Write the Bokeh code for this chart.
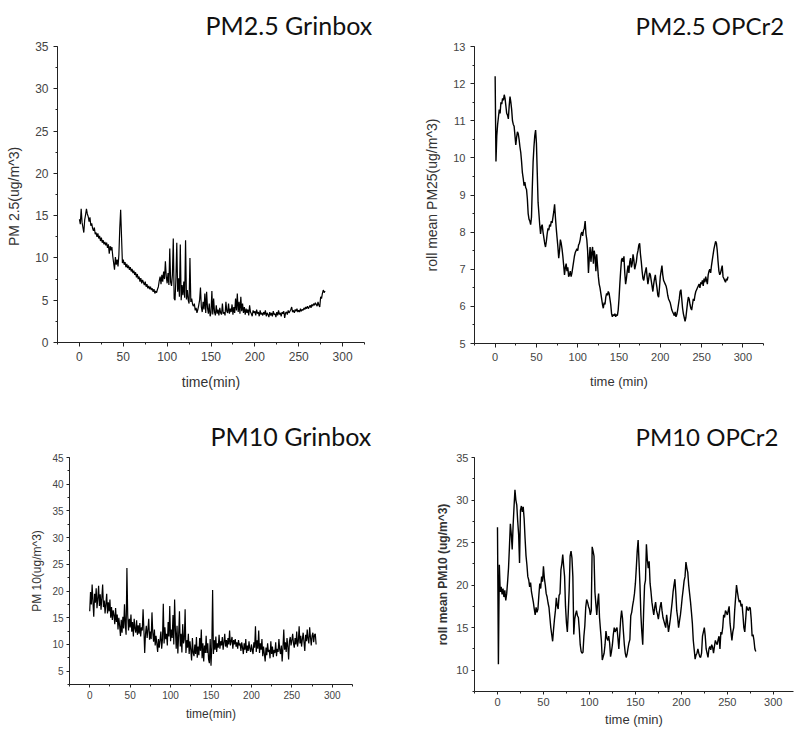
from bokeh.plotting import figure
from bokeh.layouts import column, row
from bokeh.models import Range1d, SingleIntervalTicker, Title
from bokeh.embed import file_html
from bokeh.resources import INLINE

# ---------------- data ----------------
pm25_grinbox = [
    14.6, 14.0, 15.8, 14.2, 13.6, 13.0, 14.5, 15.1, 15.8, 15.2,
    14.9, 14.3, 14.8, 13.8, 14.1, 13.5, 13.2, 13.6, 12.8, 13.0,
    12.5, 12.9, 12.3, 12.6, 12.0, 12.4, 11.8, 12.1, 11.6, 11.9,
    11.5, 11.8, 11.2, 11.6, 10.5, 11.4, 10.9, 11.3, 10.2, 9.4,
    8.6, 10.1, 9.2, 9.8, 9.0, 10.4, 13.5, 15.7, 12.5, 9.4,
    9.8, 9.2, 9.5, 8.9, 9.3, 8.8, 9.1, 8.6, 8.9, 8.4,
    8.7, 8.2, 8.5, 8.0, 8.3, 7.7, 8.1, 7.5, 7.8, 7.2,
    7.6, 7.0, 7.4, 7.1, 6.8, 7.2, 6.6, 6.9, 6.4, 6.7,
    6.3, 6.6, 6.2, 6.4, 6.0, 6.3, 5.8, 6.1, 5.9, 6.3,
    6.6, 7.3, 7.8, 6.9, 8.0, 7.2, 8.4, 7.5, 9.6, 7.8,
    7.0, 8.2, 6.8, 11.1, 7.1, 6.7, 8.0, 12.3, 5.2, 5.0,
    7.5, 11.8, 6.0, 7.6, 5.4, 11.6, 5.0, 6.8, 5.6, 7.2,
    5.3, 12.1, 5.1, 6.2, 5.0, 4.6, 10.0, 4.8, 5.2, 4.5,
    4.3, 4.6, 3.8, 4.1, 3.5, 3.9, 4.4, 5.0, 6.5, 4.2,
    3.6, 4.8, 3.9, 5.8, 3.5, 6.0, 4.1, 3.4, 4.6, 3.1,
    3.5, 6.1, 3.3, 5.2, 3.6, 3.2, 4.4, 3.4, 3.9, 3.2,
    4.1, 3.5, 3.3, 4.6, 3.4, 3.6, 3.2, 4.8, 3.7, 3.5,
    4.6, 3.4, 4.0, 3.6, 4.5, 3.3, 4.2, 3.5, 5.2, 3.8,
    5.8, 3.6, 4.8, 3.4, 5.4, 3.7, 4.6, 3.5, 4.2, 3.3,
    4.0, 3.5, 3.9, 3.2, 4.4, 3.6, 3.4, 3.1, 3.8, 3.5,
    3.7, 3.2, 3.9, 3.4, 3.6, 3.1, 3.8, 3.3, 3.5, 3.2,
    3.6, 3.3, 3.8, 3.1, 3.5, 3.3, 3.0, 3.6, 3.2, 3.5,
    3.1, 3.7, 3.3, 3.4, 3.0, 3.6, 3.2, 3.8, 3.3, 3.5,
    3.1, 3.6, 3.4, 3.7, 2.9, 3.5, 3.6, 3.3, 3.8, 3.5,
    3.7, 3.9, 4.2, 3.6, 3.8, 3.5, 3.9, 3.7, 4.0, 3.6,
    3.8, 3.6, 4.0, 3.7, 3.9, 3.8, 4.1, 3.9, 4.2, 4.0,
    4.3, 4.0, 4.2, 4.4, 4.1, 4.5, 4.3, 4.6, 4.4, 4.7,
    4.5, 4.3, 4.8, 4.4, 4.2, 5.4, 5.2, 5.8, 6.2, 5.9,
    6.1,
]

pm25_opcr2 = [
    12.2, 9.9, 10.6, 10.9, 11.1, 11.3, 11.2, 11.5, 11.45, 11.6,
    11.55, 11.7, 11.6, 11.4, 11.2, 11.15, 11.05, 11.4, 11.65, 11.5,
    11.3, 11.0, 10.9, 10.85, 10.6, 10.35, 10.55, 10.7, 10.65, 10.5,
    10.3, 10.15, 9.9, 9.6, 9.45, 9.25, 9.35, 9.2, 9.15, 8.9,
    8.5, 8.35, 8.3, 8.2, 8.4, 9.2, 9.9, 10.3, 10.6, 10.75,
    10.4, 9.6, 8.8, 8.5, 8.2, 7.95, 8.15, 8.2, 8.0, 7.85,
    7.7, 7.6, 7.75, 7.95, 8.1, 8.05, 8.2, 8.15, 8.3, 8.25,
    8.4, 8.55, 8.75, 8.4, 8.1, 7.85, 7.6, 7.3, 7.5, 7.8,
    7.7, 7.55, 7.35, 7.1, 6.85, 7.05, 7.15, 6.95, 7.05, 6.8,
    6.85, 6.95, 6.8, 6.9, 7.05, 7.2, 7.35, 7.45, 7.5, 7.55,
    7.5, 7.65, 7.7, 7.8, 7.95, 8.0, 7.9, 8.05, 8.1, 8.3,
    7.95, 7.8, 7.5, 6.9, 7.3, 7.6, 7.2, 7.45, 7.6, 7.15,
    7.5, 7.35, 6.95, 7.4, 7.1, 6.8, 6.6, 6.5, 6.35, 6.2,
    6.05, 5.95, 6.1, 6.05, 6.25, 6.35, 6.3, 6.4, 6.35, 6.2,
    6.05, 5.8, 5.72, 5.78, 5.75, 5.8, 5.72, 5.78, 5.75, 5.9,
    6.2, 6.6, 6.95, 7.25, 7.3, 7.2, 7.35, 6.9, 6.6, 6.75,
    6.95, 7.1, 6.9, 7.2, 7.3, 7.05, 7.15, 7.4, 7.25, 7.0,
    7.1, 7.2, 7.4, 7.5, 7.65, 7.7, 7.4, 7.2, 6.95, 6.75,
    6.7, 6.85, 6.95, 7.05, 6.8, 6.6, 6.75, 6.9, 6.85, 6.7,
    6.55, 6.4, 6.6, 6.75, 6.85, 6.65, 6.5, 6.3, 6.25, 6.5,
    6.8, 6.95, 7.1, 6.85, 6.7, 6.65, 6.6, 6.55, 6.45, 6.3,
    6.2, 6.15, 6.1, 6.0, 5.9, 5.85, 5.8, 5.75, 5.85, 5.72,
    5.78, 5.9, 6.05, 6.2, 6.4, 6.45, 6.2, 5.95, 5.8, 5.7,
    5.6, 5.7, 5.9, 6.1, 6.25, 6.2, 6.05, 5.95, 5.9, 6.05,
    6.2, 6.15, 6.3, 6.4, 6.45, 6.5, 6.55, 6.6, 6.5, 6.65,
    6.6, 6.7, 6.55, 6.75, 6.65, 6.8, 6.7, 6.6, 6.85, 6.95,
    7.0, 6.9, 7.1, 7.25, 7.4, 7.55, 7.65, 7.75, 7.7, 7.5,
    7.2, 6.95, 6.85, 6.9, 7.0, 7.1, 6.8, 6.75, 6.7, 6.65,
    6.75, 6.7, 6.8,
]

pm10_grinbox = [
    16.2, 19.8, 17.5, 21.2, 18.0, 15.2, 19.5, 17.8, 20.5, 16.8,
    18.6, 21.0, 17.2, 19.4, 16.5, 18.8, 21.2, 17.0, 18.2, 15.8,
    17.6, 19.5, 15.8, 17.9, 16.2, 18.4, 15.0, 17.0, 14.6, 16.4,
    15.5, 13.8, 16.8, 14.2, 15.6, 12.8, 15.0, 13.5, 11.6, 14.6,
    12.2, 15.2, 13.0, 17.5, 13.8, 11.8, 24.3, 15.5, 12.6, 14.8,
    13.2, 15.6, 12.4, 14.2, 11.5, 14.8, 13.0, 12.2, 14.5, 11.8,
    13.6, 12.0, 14.0, 11.5, 13.2, 12.6, 16.6, 12.8, 8.4, 12.0,
    13.5, 11.2, 12.8, 14.8, 10.9, 12.4, 11.0, 16.0, 12.2, 10.5,
    12.8, 9.8, 11.6, 10.2, 8.6, 11.0, 9.4, 10.8, 12.4, 9.2,
    11.0, 17.6, 10.2, 13.2, 11.0, 12.0, 9.8, 14.2, 11.5, 17.2,
    10.6, 12.8, 11.2, 15.5, 10.0, 18.4, 12.6, 9.2, 13.5, 8.3,
    11.8, 16.2, 9.6, 12.0, 8.5, 13.8, 10.2, 11.0, 16.6, 8.4,
    10.8, 9.4, 12.0, 8.2, 10.6, 9.0, 7.0, 11.2, 8.4, 7.8,
    10.0, 8.2, 11.4, 7.5, 9.6, 8.0, 11.2, 8.8, 12.8, 7.4,
    10.2, 6.8, 9.8, 8.4, 11.6, 8.4, 10.2, 7.2, 6.5, 11.0,
    6.0, 9.5, 20.2, 8.2, 10.8, 9.0, 11.5, 8.6, 10.2, 9.4,
    11.8, 9.2, 10.6, 9.8, 11.4, 9.0, 10.4, 12.0, 9.6, 10.8,
    9.4, 11.2, 10.0, 12.6, 9.8, 10.6, 11.4, 9.2, 10.8, 10.0,
    11.0, 9.6, 10.4, 9.2, 10.8, 9.8, 10.2, 8.8, 10.4, 9.4,
    8.2, 10.2, 9.0, 11.0, 8.4, 9.8, 8.8, 10.6, 9.2, 8.6,
    10.0, 9.0, 8.2, 10.4, 9.4, 13.4, 8.6, 10.8, 9.2, 12.6,
    8.4, 10.2, 9.0, 11.0, 7.8, 9.6, 8.2, 6.8, 9.4, 8.0,
    10.2, 8.6, 9.0, 7.4, 10.6, 8.2, 9.6, 7.6, 9.0, 8.4,
    10.4, 7.8, 9.2, 8.6, 11.0, 9.0, 8.2, 9.8, 6.8, 9.4,
    12.8, 9.0, 10.4, 8.6, 11.2, 9.6, 7.2, 10.6, 11.4, 9.8,
    10.8, 12.0, 10.2, 9.4, 11.2, 10.0, 12.4, 9.6, 10.6, 13.4,
    10.2, 11.6, 9.6, 11.0, 12.2, 10.4, 8.8, 11.8, 10.6, 12.8,
    11.0, 10.2, 13.2, 11.4, 9.8, 11.6, 12.2, 10.4, 11.8, 12.0,
    10.0,
]

pm10_opcr2 = [
    26.8, 10.7, 22.4, 19.2, 19.8, 18.9, 19.6, 18.6, 19.4, 18.2,
    19.0, 20.4, 22.0, 24.5, 27.2, 26.0, 24.2, 27.0, 29.2, 31.2,
    30.0, 29.4, 27.5, 26.0, 22.6, 28.8, 29.3, 28.6, 29.2, 27.8,
    25.5, 23.5, 22.4, 21.0, 20.6, 19.8, 20.3, 19.2, 18.6, 18.0,
    17.2, 16.5, 17.4, 16.8, 17.2, 18.8, 20.2, 19.6, 21.0, 20.4,
    22.2, 20.8, 20.0, 19.0, 18.6, 17.9, 17.4, 16.2, 15.0, 14.2,
    13.4, 14.8, 16.0, 17.0, 18.5, 17.6, 17.2, 18.8, 19.0, 21.8,
    22.5, 23.6, 22.2, 21.0, 17.5, 15.6, 14.5, 16.8, 19.5, 23.4,
    24.0, 23.2, 21.0, 14.2, 16.0, 16.6, 17.0, 16.4, 16.2, 14.8,
    13.0, 12.2, 12.0, 12.1, 14.0, 15.2, 17.4, 18.3, 18.0, 17.5,
    17.2, 16.5, 17.0, 24.5, 24.0, 23.4, 19.2, 17.8, 16.5, 18.0,
    19.0, 16.2, 14.8, 13.5, 11.2, 11.6, 12.0, 13.0, 14.6, 13.8,
    13.5, 14.0, 13.2, 11.6, 12.2, 13.0, 14.2, 15.0, 14.5, 14.8,
    15.0, 13.8, 12.5, 14.2, 16.0, 17.0, 16.1, 14.5, 13.0, 12.0,
    11.5, 11.9, 12.6, 13.2, 13.6, 16.4, 16.8, 17.6, 18.2, 19.0,
    20.2, 22.0, 24.0, 25.3, 22.6, 20.0, 16.5, 14.5, 13.0, 17.0,
    20.0, 20.6, 24.8, 23.0, 22.0, 22.8, 20.2, 19.2, 18.0, 17.2,
    16.5, 17.4, 18.0, 17.0, 16.6, 16.0, 16.8, 17.5, 18.0, 17.0,
    16.2, 15.8, 15.4, 15.0, 16.5, 15.6, 14.5, 15.2, 16.0, 17.0,
    18.0, 19.2, 20.0, 20.7, 19.0, 17.0, 16.2, 15.0, 15.8, 16.5,
    17.5, 18.6, 19.5, 20.5, 21.0, 22.7, 22.0, 21.5, 20.0, 19.0,
    18.0, 16.8, 15.5, 13.5, 12.4, 11.3, 11.8, 12.0, 12.5, 12.0,
    11.6, 11.5, 12.0, 14.0, 14.5, 15.0, 14.0, 12.5, 12.0, 11.5,
    12.5, 12.8, 12.4, 13.0, 12.7, 12.0, 12.8, 13.5, 13.2, 13.0,
    13.6, 14.0, 12.5, 14.5, 14.2, 15.0, 16.5, 16.2, 17.0, 16.8,
    16.5, 17.0, 17.5, 15.5, 14.5, 13.5, 14.5, 15.0, 17.0, 18.5,
    20.0, 19.2, 18.5, 18.0, 18.2, 17.5, 17.8, 16.5, 15.0, 14.5,
    16.0, 17.5, 17.2, 17.0, 17.4, 17.3, 16.0, 14.0, 14.2, 13.5,
    12.5, 12.2,
]

minutes_pm25_grinbox = list(range(len(pm25_grinbox)))
minutes_pm25_opcr2 = list(range(len(pm25_opcr2)))
minutes_pm10_grinbox = list(range(len(pm10_grinbox)))
minutes_pm10_opcr2 = list(range(len(pm10_opcr2)))

titles = ["PM2.5 Grinbox", "PM2.5 OPCr2", "PM10 Grinbox", "PM10 OPCr2"]
x_labels = ["time(min)", "time (min)", "time(min)", "time (min)"]
y_labels = ["PM  2.5(ug/m^3)", "roll mean PM25(ug/m^3)", "PM 10(ug/m^3)", "roll mean PM10 (ug/m^3)"]

TICK_FONT = "Liberation Sans"
HAS_STANDOFF = "standoff" in Title.properties()


def panel(x, y, title, xlab, ylab, xr, yr, yint, fw, fh, bl, br, bt, bb,
          title_offset, title_size, title_gap, tick_size, xlab_size, ylab_size,
          ylab_style="normal", tick_out=4, label_standoff=5, axis_standoff=8,
          lw=1.2):
    p = figure(frame_width=fw, frame_height=fh, output_backend="svg",
               toolbar_location=None, x_range=Range1d(*xr), y_range=Range1d(*yr),
               min_border_left=bl, min_border_right=br, min_border_top=bt,
               min_border_bottom=bb)
    p.outline_line_color = None
    p.grid.visible = False
    p.background_fill_color = "white"
    p.border_fill_color = "white"
    t = Title(text=title, align="left", offset=title_offset,
              text_font="Lato", text_font_size=title_size,
              text_font_style="normal", text_color="#111111")
    if HAS_STANDOFF:
        t.standoff = title_gap
    p.add_layout(t, "above")
    p.line(x, y, line_color="black", line_width=lw)
    p.xaxis.ticker = SingleIntervalTicker(interval=50, num_minor_ticks=2)
    p.yaxis.ticker = SingleIntervalTicker(interval=yint, num_minor_ticks=2)
    for ax in (p.xaxis, p.yaxis):
        ax.axis_line_color = "#222222"
        ax.major_tick_line_color = "#222222"
        ax.minor_tick_line_color = "#222222"
        ax.major_tick_in = 0
        ax.major_tick_out = tick_out
        ax.minor_tick_in = 0
        ax.minor_tick_out = 2
        ax.major_label_text_font = TICK_FONT
        ax.major_label_text_font_size = tick_size
        ax.major_label_text_color = "#444444"
        ax.major_label_standoff = label_standoff
        ax.axis_label_text_font = TICK_FONT
        ax.axis_label_text_color = "#333333"
        ax.axis_label_standoff = axis_standoff
    p.xaxis.axis_label = xlab
    p.yaxis.axis_label = ylab
    p.xaxis.axis_label_text_font_size = xlab_size
    p.yaxis.axis_label_text_font_size = ylab_size
    p.xaxis.axis_label_text_font_style = "normal"
    p.yaxis.axis_label_text_font_style = ylab_style
    p.yaxis.major_label_orientation = "horizontal"
    return p


# row 1: shared top border 46, bottom border 57
p1 = panel(minutes_pm25_grinbox, pm25_grinbox, titles[0], x_labels[0], y_labels[0],
           (-25, 325), (0, 35), 5, 307, 296, 57, 46, 46, 57,
           148, "25px", 13, "12px", "14px", "14px", axis_standoff=10, lw=1.2)
p2 = panel(minutes_pm25_opcr2, pm25_opcr2, titles[1], x_labels[1], y_labels[1],
           (-25, 325), (5, 13), 1, 289, 297, 64, 30, 46, 57,
           161, "24px", 13, "11px", "13px", "14px", axis_standoff=10, lw=1.4)
# row 2: shared top border 57, bottom border 38
p3 = panel(minutes_pm10_grinbox, pm10_grinbox, titles[2], x_labels[2], y_labels[2],
           (-25, 325), (2.5, 45), 5, 283, 227, 69, 58, 57, 38,
           141, "25px", 14, "10px", "12px", "12px", tick_out=3, label_standoff=3,
           axis_standoff=5, lw=1.2)
p4 = panel(minutes_pm10_opcr2, pm10_opcr2, titles[3], x_labels[3], y_labels[3],
           (-25, 322), (7.5, 35), 5, 319, 234, 64, 1, 57, 38,
           161, "24px", 14, "11px", "13px", "12px", ylab_style="bold", tick_out=3,
           label_standoff=3, axis_standoff=3, lw=1.4)

layout = column(row(p1, p2), row(p3, p4))

open("out.html", "w").write(file_html(layout, INLINE))
